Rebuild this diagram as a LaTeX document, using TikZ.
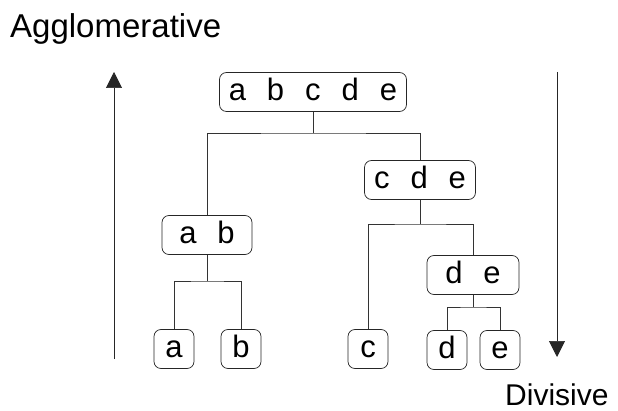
\documentclass[tikz,border=0pt]{standalone}
\usepackage{fontspec}
\setmainfont{Liberation Sans}
\usetikzlibrary{arrows.meta}
\newcommand{\gp}{\hspace{21pt}}
\begin{document}
\begin{tikzpicture}[x=1pt,y=-1pt,
  box/.style={draw=black!85, line width=0.7pt, rounded corners=7pt, inner sep=0pt,
    minimum height=39pt, font=\fontsize{31}{31}\selectfont, text height=17pt, text depth=0pt},
  leaf/.style={box, minimum width=40pt},
  link/.style={draw=black!80, line width=0.7pt},
  dir/.style={draw=black!85, line width=0.7pt, -{Triangle[length=16pt,width=16pt]}},
  lab/.style={anchor=base west, inner sep=0pt}]
\useasboundingbox (0,0) rectangle (618,411);
\node[lab, font=\fontsize{33}{33}\selectfont] (agg) at (10,38) {Agglomerative};
\node[lab, font=\fontsize{30}{30}\selectfont] (div) at (505,405) {Divisive};
\node[box, minimum width=187pt] (top) at (313,92) {a\gp b\gp c\gp d\gp e};
\node[box, minimum width=111pt] (cde) at (420,180) {c\gp d\gp e};
\node[box, minimum width=90pt] (ab) at (207,235) {a\gp b};
\node[box, minimum width=92pt] (de) at (473,275) {d\gp e};
\node[leaf] (la) at (174,349) {a};
\node[leaf] (lb) at (241,349) {b};
\node[leaf] (lc) at (368,349) {c};
\node[leaf] (ld) at (447,350) {d};
\node[leaf] (le) at (500,350) {e};
\coordinate (j1) at (313,133);
\coordinate (j2) at (207,281);
\coordinate (j3) at (420,224);
\coordinate (j4) at (473,307);
\path[link] (top.south) -- (j1);
\path[link] (ab.north) |- (j1) -| (cde.north);
\path[link] (ab.south) -- (j2);
\path[link] (la.north) |- (j2) -| (lb.north);
\path[link] (cde.south) -- (j3);
\path[link] (lc.north) |- (j3) -| (de.north);
\path[link] (de.south) -- (j4);
\path[link] (ld.north) |- (j4) -| (le.north);
\coordinate (u0) at (114,359);
\coordinate (u1) at (114,72);
\coordinate (d0) at (557,72);
\coordinate (d1) at (557,357);
\path[dir] (u0) -- (u1);
\path[dir] (d0) -- (d1);
\end{tikzpicture}
\end{document}
